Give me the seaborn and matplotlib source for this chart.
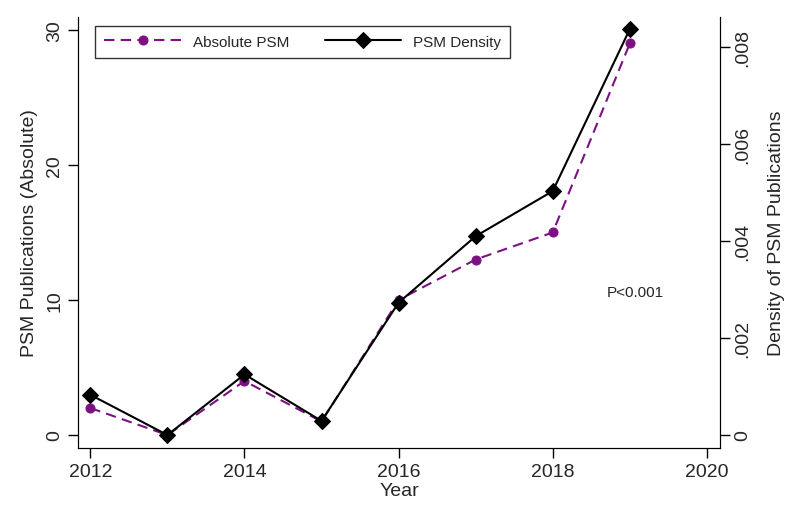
import matplotlib
matplotlib.use("Agg")
import matplotlib.pyplot as plt
import matplotlib.ticker as mticker
import seaborn as sns

# Data
years = [2012, 2013, 2014, 2015, 2016, 2017, 2018, 2019]
absolute_psm = [2, 0, 4, 1, 10, 13, 15, 29]
psm_density = [0.00083, 0.0, 0.00125, 0.00029, 0.00273, 0.00410, 0.00503, 0.00837]

left_ticks = [0, 10, 20, 30]
right_ticks = [0, 0.002, 0.004, 0.006, 0.008]
year_ticks = [2012, 2014, 2016, 2018, 2020]

purple = "#7d1083"

sns.set_style("ticks")
plt.rcParams['font.family'] = ['Liberation Sans', 'DejaVu Sans']

fig = plt.figure(figsize=(7.96, 5.06), dpi=100)
ax = fig.add_axes([0.098, 0.1126, 0.8065, 0.8518])
ax2 = ax.twinx()

sns.lineplot(x=years, y=absolute_psm, ax=ax, color=purple, marker='o', markersize=6.5,
             markeredgecolor=purple, linewidth=1.5, linestyle=(0, (5, 3)),
             label='Absolute PSM', legend=False)
sns.lineplot(x=years, y=psm_density, ax=ax2, color='black', marker='D', markersize=8,
             markeredgecolor='black', linewidth=1.5, label='PSM Density', legend=False)

ax.set_xlim(2011.84, 2020.17)
ax.set_ylim(-0.963, 30.96)
ax2.set_ylim(-0.000268, 0.00862)

ax.set_xticks(year_ticks)
ax.set_yticks(left_ticks)
ax2.set_yticks(right_ticks)
ax2.yaxis.set_major_formatter(mticker.FuncFormatter(
    lambda v, p: '0' if v == 0 else ('%.3f' % v).lstrip('0')))

for a in (ax, ax2):
    a.tick_params(labelsize=14, length=7, width=1, color='black')
    for s in a.spines.values():
        s.set_color('black')
    a.spines['top'].set_visible(False)
ax.tick_params(axis='y', labelrotation=90)
ax2.tick_params(axis='y', labelrotation=90)
for lab in ax.get_yticklabels():
    lab.set_va('center')
for lab in ax2.get_yticklabels():
    lab.set_va('center')

ax.set_xlabel('Year', fontsize=14, labelpad=2)
ax.set_ylabel('PSM Publications (Absolute)', fontsize=14, labelpad=6)
ax2.set_ylabel('Density of PSM Publications', fontsize=14, labelpad=12)

ax.text(2018.7, 10.6, 'P<0.001', fontsize=11, ha='left', va='center')

h1, l1 = ax.get_legend_handles_labels()
h2, l2 = ax2.get_legend_handles_labels()
leg = ax2.legend(h1 + h2, l1 + l2, loc='upper left', bbox_to_anchor=(0.015, 0.998),
                 ncol=2, fontsize=11, frameon=True, fancybox=False, handlelength=5,
                 columnspacing=2.3, borderpad=0.6)
leg.get_frame().set_edgecolor('black')
leg.get_frame().set_linewidth(1)

fig.savefig('out.png', dpi=100)
